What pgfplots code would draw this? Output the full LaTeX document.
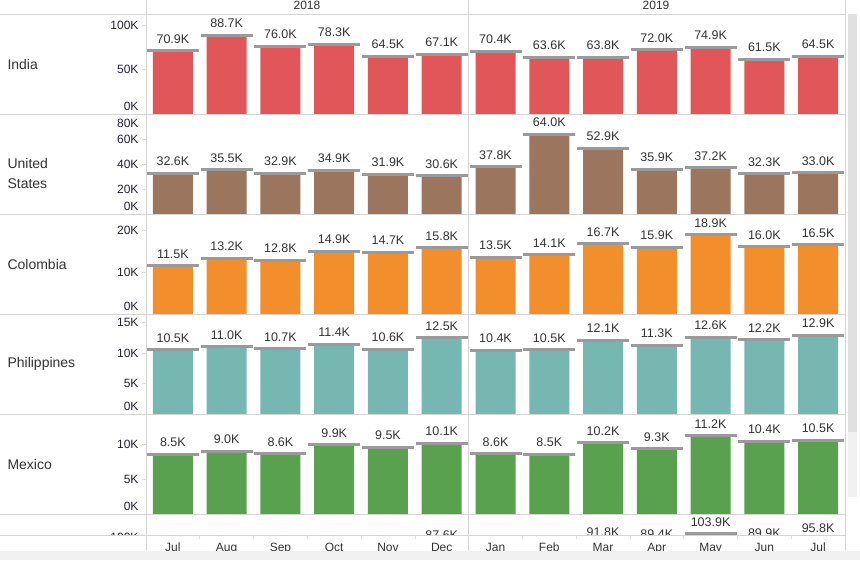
\documentclass[border=0pt]{standalone}
\usepackage{fontspec}
\setmainfont{Liberation Sans}
\usepackage{pgfplots}
\usepackage{pgfplotstable}
\pgfplotsset{compat=1.18}
\definecolor{cIndia}{HTML}{E15759}
\definecolor{cUS}{HTML}{9C755F}
\definecolor{cCol}{HTML}{F28E2B}
\definecolor{cPhl}{HTML}{76B7B2}
\definecolor{cMex}{HTML}{59A14F}
\definecolor{cSix}{HTML}{4E79A7}
\definecolor{capgray}{HTML}{9A9A9A}
\definecolor{gridgray}{HTML}{D4D4D4}
\definecolor{tickgray}{HTML}{DDDDDD}
\definecolor{txt}{HTML}{333333}
\definecolor{ticktxt}{HTML}{222233}
\newcommand{\lab}{\fontsize{12}{14}\selectfont}
\newcommand{\vlab}{\fontsize{12.5}{14}\selectfont}
\newcommand{\rlab}{\fontsize{14}{20}\selectfont}

\pgfplotstableread{
x    india us   col  phl  mex
0.5  70.9  32.6 11.5 10.5 8.5
1.5  88.7  35.5 13.2 11.0 9.0
2.5  76.0  32.9 12.8 10.7 8.6
3.5  78.3  34.9 14.9 11.4 9.9
4.5  64.5  31.9 14.7 10.6 9.5
5.5  67.1  30.6 15.8 12.5 10.1
6.5  70.4  37.8 13.5 10.4 8.6
7.5  63.6  64.0 14.1 10.5 8.5
8.5  63.8  52.9 16.7 12.1 10.2
9.5  72.0  35.9 15.9 11.3 9.3
10.5 74.9  37.2 18.9 12.6 11.2
11.5 61.5  32.3 16.0 12.2 10.4
12.5 64.5  33.0 16.5 12.9 10.5
}\data

\pgfplotstableread{
x    six
5.5  87.6
8.5  91.8
9.5  89.4
10.5 103.9
11.5 89.9
12.5 95.8
}\datasix

\pgfplotsset{
  tabrow/.style={
    scale only axis, width=699pt, height=100pt,
    anchor=south west,
    xmin=0, xmax=13, ymin=0, clip=false,
    axis line style={draw=none},
    xtick=\empty, ytick pos=left,
    tick align=outside, major tick length=4pt,
    ytick style={draw=tickgray, line width=0.6pt},
    yticklabel style={font=\lab, text=ticktxt, anchor=east},
  },
  barrow/.style={ybar, bar width=0.744, bar shift=0pt, fill=#1, draw=none},
  capline/.style={
    only marks, mark=-, mark size=26pt,
    mark options={draw=capgray, line width=3pt},
    nodes near coords={\pgfmathprintnumber[fixed,fixed zerofill,precision=1,assume math mode=true]{\pgfplotspointmeta}K},
    every node near coord/.append style={anchor=south, yshift=5pt, inner sep=1pt, font=\vlab, text=txt},
  },
}

\begin{document}
\begin{tikzpicture}
\useasboundingbox (0,0) rectangle (860pt,-563pt);
\fill[white] (0,0) rectangle (860pt,-563pt);

% India
\begin{axis}[tabrow, at={(146pt,-114pt)}, ymax=112.4,
  ytick={0,50,100}, yticklabels={{\raisebox{3.2pt}[0pt][0pt]{0K}},50K,100K}]
\addplot[barrow=cIndia] table[x=x,y=india]{\data};
\addplot[capline] table[x=x,y=india]{\data};
\end{axis}
% United States
\begin{axis}[tabrow, at={(146pt,-214pt)}, ymax=80.3,
  ytick={0,20,40,60,80}, yticklabels={{\raisebox{3.2pt}[0pt][0pt]{0K}},20K,40K,60K,{\raisebox{-12.9pt}[0pt][0pt]{80K}}}]
\addplot[barrow=cUS] table[x=x,y=us]{\data};
\addplot[capline] table[x=x,y=us]{\data};
\end{axis}
% Colombia
\begin{axis}[tabrow, at={(146pt,-314pt)}, ymax=23.81,
  ytick={0,10,20}, yticklabels={{\raisebox{3.7pt}[0pt][0pt]{0K}},10K,20K}]
\addplot[barrow=cCol] table[x=x,y=col]{\data};
\addplot[capline] table[x=x,y=col]{\data};
\end{axis}
% Philippines
\begin{axis}[tabrow, at={(146pt,-414pt)}, ymax=16.39,
  ytick={0,5,10,15}, yticklabels={{\raisebox{3.7pt}[0pt][0pt]{0K}},5K,10K,15K}]
\addplot[barrow=cPhl] table[x=x,y=phl]{\data};
\addplot[capline] table[x=x,y=phl]{\data};
\end{axis}
% Mexico
\begin{axis}[tabrow, at={(146pt,-514pt)}, ymax=14.29,
  ytick={0,5,10}, yticklabels={{\raisebox{3.7pt}[0pt][0pt]{0K}},5K,10K}]
\addplot[barrow=cMex] table[x=x,y=mex]{\data};
\addplot[capline] table[x=x,y=mex]{\data};
\end{axis}
% sixth row (mostly scrolled out of view)
\begin{axis}[tabrow, at={(146pt,-621pt)}, height=107pt, ymax=127.4,
  ytick={100}, yticklabels={100K}]
\addplot[barrow=cSix] table[x=x,y=six]{\datasix};
\addplot[capline] table[x=x,y=six]{\datasix};
\end{axis}

% cover for the part below the visible pane
\fill[white] (-20pt,-535pt) rectangle (880pt,-640pt);

% grid lines
\foreach \yy in {14,114,214,314,414,514,535}
  \draw[gridgray, line width=0.8pt] (0,-\yy pt) -- (845pt,-\yy pt);
\foreach \xx in {146,468,845}
  \draw[gridgray, line width=0.8pt] (\xx pt,0) -- (\xx pt,-551pt);
\foreach \i in {1,...,12}
  \draw[tickgray, line width=0.6pt] ({146pt+53.77pt*\i},-535pt) -- ({146pt+53.77pt*\i},-539pt);

% headers
\node[font=\lab, text=txt, anchor=base] at (307pt,-9pt) {2018};
\node[font=\lab, text=txt, anchor=base] at (656pt,-9pt) {2019};
\node[font=\rlab, text=txt, anchor=west] at (4pt,-64pt) {India};
\node[font=\rlab, text=txt, anchor=west, align=left] at (4pt,-173pt) {United\\States};
\node[font=\rlab, text=txt, anchor=west] at (4pt,-264pt) {Colombia};
\node[font=\rlab, text=txt, anchor=west] at (4pt,-364pt) {Philippines};
\node[font=\rlab, text=txt, anchor=west] at (4pt,-464pt) {Mexico};

% month labels
\foreach \m [count=\i from 0] in {Jul,Aug,Sep,Oct,Nov,Dec,Jan,Feb,Mar,Apr,May,Jun,Jul}
  \node[font=\lab, text=txt, anchor=base] at ({146pt+53.77pt*(\i+0.5)},-551.5pt) {\m};

% bottom scroll band
\fill[black!6] (-5pt,-551pt) rectangle (865pt,-560pt);
\draw[black!35, line width=0.8pt] (-5pt,-560pt) -- (865pt,-560pt);
\fill[white] (-5pt,-560.4pt) rectangle (865pt,-600pt);
% right scrollbar
\fill[black!6] (848pt,-14pt) rectangle (857pt,-497pt);
\fill[black!12] (848pt,-14pt) rectangle (857pt,-432pt);
\end{tikzpicture}
\end{document}
